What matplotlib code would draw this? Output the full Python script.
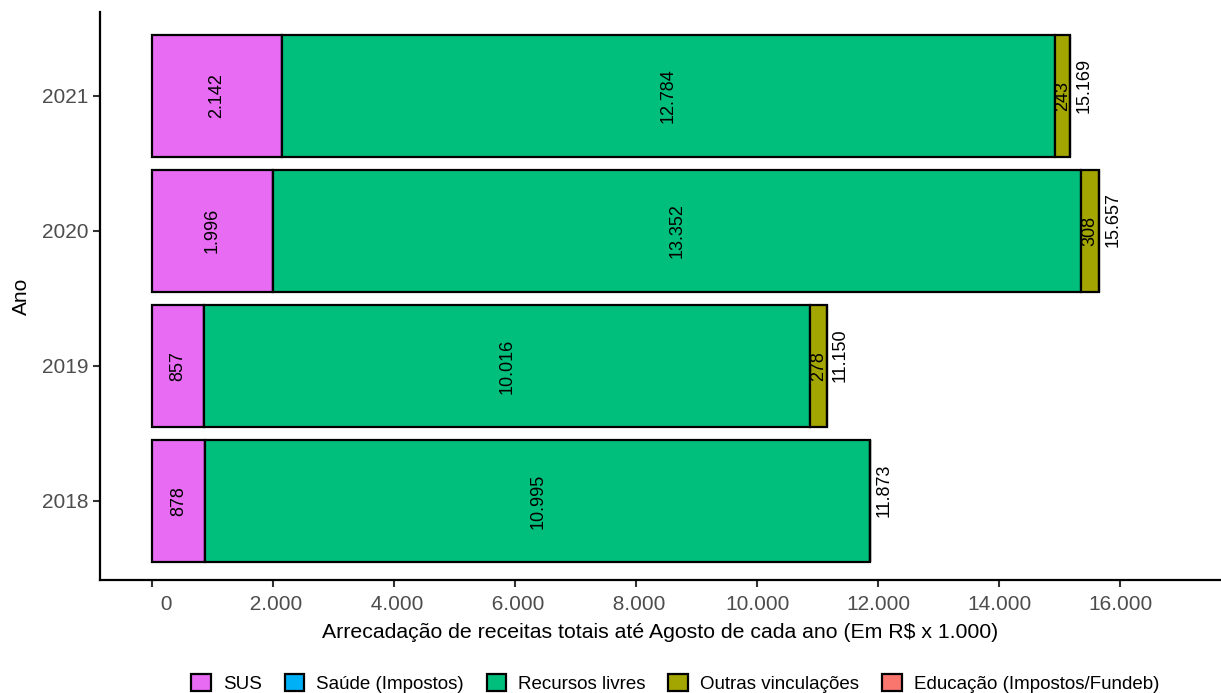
import matplotlib.pyplot as plt
import numpy as np
from matplotlib.patches import Patch

plt.rcParams['font.family'] = ['Liberation Sans', 'DejaVu Sans']

anos = ["2018", "2019", "2020", "2021"]
categorias = ["SUS", "Saúde (Impostos)", "Recursos livres",
              "Outras vinculações", "Educação (Impostos/Fundeb)"]
cores = ["#E76BF3", "#00B0F6", "#00BF7D", "#A3A500", "#F8766D"]

sus = [878, 857, 1996, 2142]
saude = [0, 0, 0, 0]
recursos_livres = [10995, 10016, 13352, 12784]
outras = [0, 278, 308, 243]
educacao = [0, 0, 0, 0]
totais = [11873, 11150, 15657, 15169]
xticks = [0, 2000, 4000, 6000, 8000, 10000, 12000, 14000, 16000]


def fmt(v):
    return f"{v:,.0f}".replace(",", ".")


series = [sus, saude, recursos_livres, outras, educacao]

fig = plt.figure(figsize=(12.21, 6.93), dpi=100)
ax = fig.add_axes([100 / 1221, 113 / 693, 1120 / 1221, 568 / 693])

y = np.arange(len(anos))
left = np.zeros(len(anos))
for vals, cor in zip(series, cores):
    vals = np.array(vals, dtype=float)
    ax.barh(y, vals, left=left, height=0.9, color=cor,
            edgecolor="black", linewidth=1.6)
    for yi, (l, v) in enumerate(zip(left, vals)):
        if v > 0:
            ax.text(l + v / 2, yi, fmt(v), rotation=90, ha="center",
                    va="center", fontsize=13, color="black")
    left += vals

for yi, t in enumerate(totais):
    ax.text(t + 230, yi + 0.08, fmt(t), rotation=90, ha="center",
            va="center", fontsize=13, color="black")

ax.set_xlim(-860, 17650)
ax.set_ylim(-0.585, 3.62)
ax.set_yticks(y)
ax.set_yticklabels(anos)
ax.set_xticks(xticks)
# labels padded to a common width, like R's format()
ax.set_xticklabels([f"{fmt(v):>6}" for v in xticks])
ax.tick_params(colors="#333333", labelcolor="#4D4D4D", labelsize=15,
               width=1.5, length=5)
ax.tick_params(axis="x", pad=6)

for s in ["top", "right"]:
    ax.spines[s].set_visible(False)
for s in ["left", "bottom"]:
    ax.spines[s].set_linewidth(1.6)

ax.set_xlabel("Arrecadação de receitas totais até Agosto de cada ano (Em R$ x 1.000)",
              fontsize=15.3, labelpad=6)
ax.set_ylabel("Ano", fontsize=15, labelpad=8)

handles = [Patch(facecolor=c, edgecolor="black", linewidth=1.6, label=n)
           for c, n in zip(cores, categorias)]
fig.legend(handles=handles, loc="center", bbox_to_anchor=(0.553, 0.014),
           ncol=5, frameon=False, fontsize=13.5, handlelength=1.05,
           handleheight=1.05, handletextpad=0.65, columnspacing=1.2)

fig.savefig("out.png", dpi=100)
